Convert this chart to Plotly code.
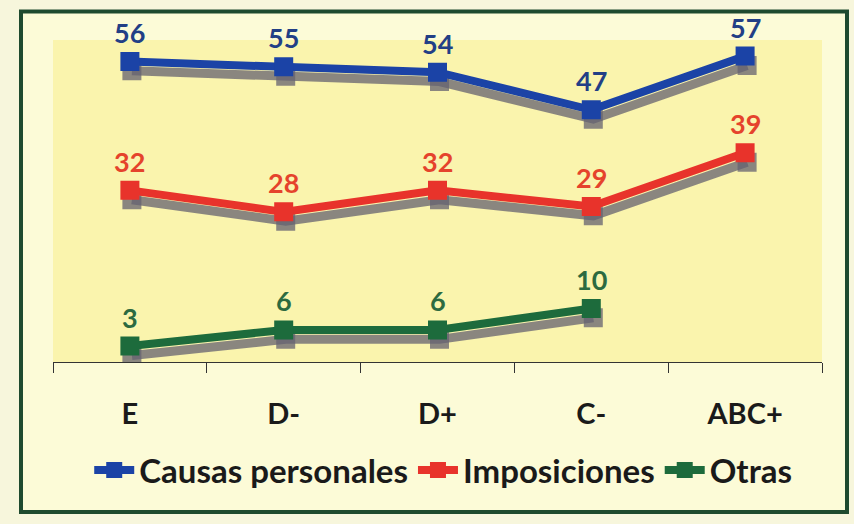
import plotly.graph_objects as go

categories = ["E", "D-", "D+", "C-", "ABC+"]
causas_personales = [56, 55, 54, 47, 57]
imposiciones = [32, 28, 32, 29, 39]
otras = [3, 6, 6, 10]

series = [
    ("Causas personales", causas_personales, "#1b43a6", "#223f86"),
    ("Imposiciones", imposiciones, "#e8332b", "#e5432c"),
    ("Otras", otras, "#1d6b3c", "#2c6a40"),
]

W, H = 854, 524
L, R, T, B = 53, 822, 40, 367  # plot area pixels
YMAX = 60
px_per_unit = (B - T) / YMAX
shadow_dy = 9.5 / px_per_unit
shadow_dx = 2.0 / ((R - L) / 5)
FONT = "Lato"

fig = go.Figure()

# shadows
for name, vals, col, lcol in series:
    xs = [i + shadow_dx for i in range(len(vals))]
    ys = [v - shadow_dy for v in vals]
    fig.add_trace(go.Scatter(
        x=xs, y=ys, mode="lines+markers", showlegend=False, hoverinfo="skip",
        line=dict(color="rgba(100,98,112,0.75)", width=9),
        marker=dict(symbol="square", size=19, color="rgba(100,98,112,0.75)"),
    ))

for name, vals, col, lcol in series:
    fig.add_trace(go.Scatter(
        x=list(range(len(vals))), y=vals, mode="lines+markers", name=name,
        line=dict(color=col, width=8),
        marker=dict(symbol="square", size=19, color=col),
    ))
    for i, v in enumerate(vals):
        fig.add_annotation(x=i, y=v, text=str(v), showarrow=False, yshift=29,
                           font=dict(family=FONT, size=27, color=lcol, weight="bold"))

def px_x(p):
    return (p - L) / (R - L)

def px_y(p):
    return (B - p) / (B - T)

shapes = [
    dict(type="rect", xref="paper", yref="paper", layer="below",
         x0=px_x(21), x1=px_x(847), y0=px_y(519), y1=px_y(11),
         fillcolor="#fcfbd7", line=dict(width=0)),
    dict(type="rect", xref="paper", yref="paper", layer="below",
         x0=0, x1=1, y0=0, y1=1, fillcolor="#faf4ad", line=dict(width=0)),
    dict(type="rect", xref="paper", yref="paper", layer="above",
         x0=px_x(21), x1=px_x(847), y0=px_y(519), y1=px_y(11),
         line=dict(color="#1e4a2e", width=4)),
]

fig.update_layout(
    width=W, height=H,
    margin=dict(l=L, r=W - R, t=T, b=H - B),
    paper_bgcolor="#f7f6dc",
    plot_bgcolor="rgba(0,0,0,0)",
    shapes=shapes,
    showlegend=True,
    legend=dict(orientation="h", x=0.519, xanchor="center", xref="container",
                y=(H - 470) / H, yref="container", yanchor="middle",
                font=dict(family=FONT, size=33, color="#1a1a1a", weight="bold"),
                bgcolor="rgba(0,0,0,0)", itemwidth=40, tracegroupgap=0),
    xaxis=dict(
        range=[-0.5, 4.5], tickmode="array", tickvals=list(range(len(categories))),
        ticktext=categories, ticks="", showgrid=False, zeroline=False,
        showline=True, linecolor="#333333", linewidth=1,
        tickfont=dict(family=FONT, size=29, color="#1a1a1a", weight="bold"),
        ticklabelstandoff=26,
        minor=dict(tickvals=[i - 0.5 for i in range(len(categories) + 1)],
                   ticks="outside", ticklen=10, tickcolor="#333333", tickwidth=1,
                   showgrid=False),
    ),
    yaxis=dict(range=[0, YMAX], visible=False, showgrid=False, zeroline=False),
)

fig.write_html("out.html", config={"displayModeBar": False},
               post_script="document.body.style.margin='0';document.body.style.padding='0';")
